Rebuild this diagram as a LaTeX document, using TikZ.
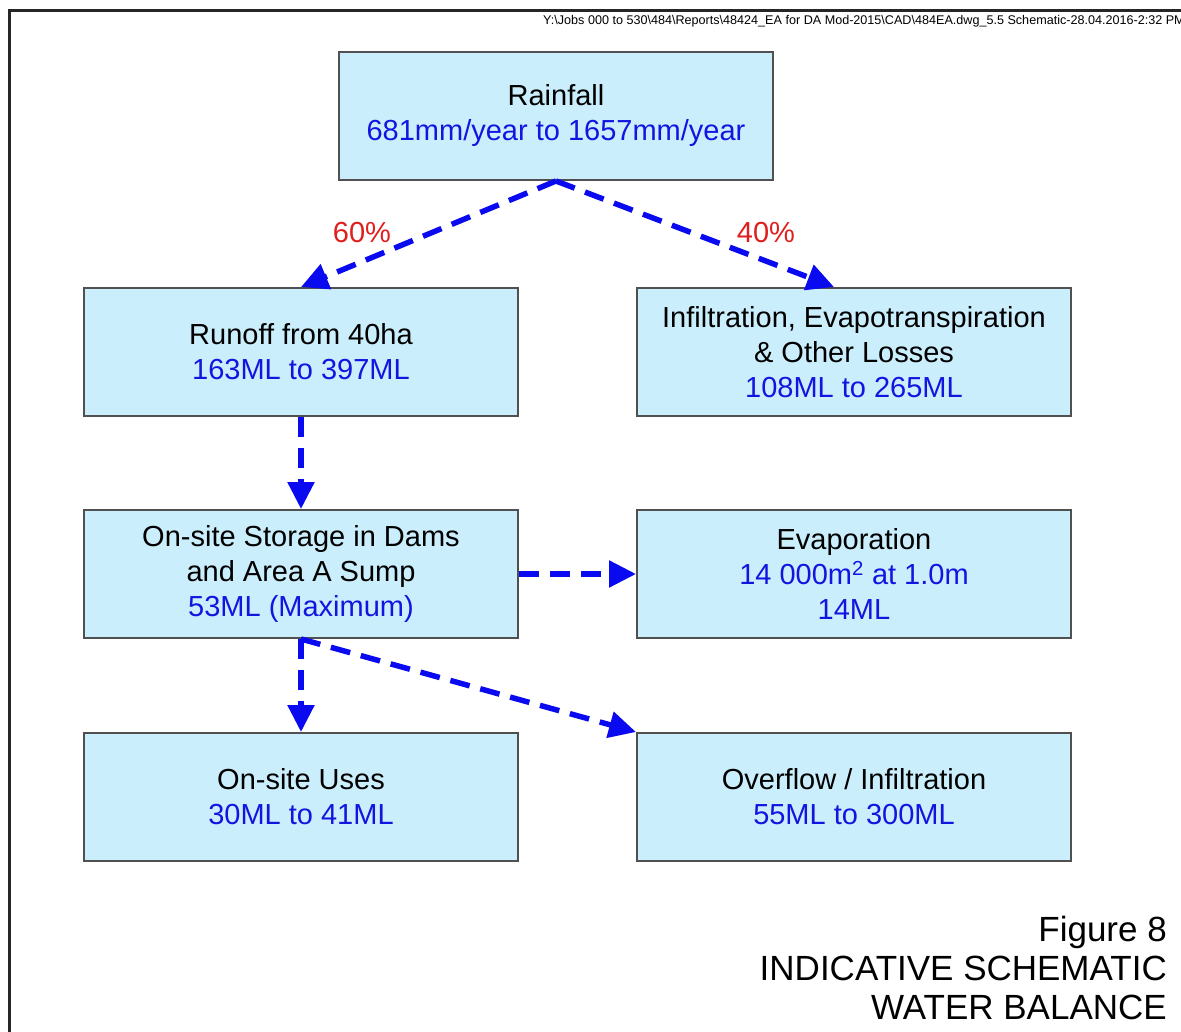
\documentclass[tikz,border=0pt]{standalone}
\usepackage{fontspec}
\setmainfont{Liberation Sans}
\usetikzlibrary{arrows.meta,calc}
\definecolor{boxfill}{RGB}{202,238,251}
\definecolor{boxline}{RGB}{80,80,80}
\definecolor{txtblue}{RGB}{20,20,225}
\definecolor{arrblue}{RGB}{10,10,240}
\definecolor{txtred}{RGB}{225,30,30}
\tikzset{
  flowbox/.style={draw=boxline, line width=2pt, fill=boxfill, minimum width=434pt,
    minimum height=128pt, inner sep=0pt, align=center, font=\fontsize{29}{35}\selectfont},
  flowarrow/.style={draw=arrblue, line width=5.5pt, dash pattern=on 20pt off 11pt,
    -{Triangle[length=27pt,width=26pt]}},
  pctlabel/.style={text=txtred, font=\fontsize{29}{35}\selectfont, inner sep=0pt},
}
\newcommand{\bl}[1]{\textcolor{txtblue}{#1}}
\begin{document}
\begin{tikzpicture}[x=1pt,y=-1pt]
\clip (0,0) rectangle (1181,1032);
\fill[white] (0,0) rectangle (1181,1032);
% frame
\draw[line width=3pt, black!85] (9,11) rectangle (1230,1080);
% header
\node[anchor=east, inner sep=0pt, font=\fontsize{12.6}{14}\selectfont] (hdr) at (1185,21)
  {Y:\textbackslash Jobs 000 to 530\textbackslash 484\textbackslash Reports\textbackslash 48424\_EA for DA Mod-2015\textbackslash CAD\textbackslash 484EA.dwg\_5.5 Schematic-28.04.2016-2:32 PM};
% boxes
\node[flowbox] (rain) at (556,116) {Rainfall\\ \bl{681mm/year to 1657mm/year}};
\node[flowbox] (run) at (301,352) {Runoff from 40ha\\ \bl{163ML to 397ML}};
\node[flowbox] (inf) at (854,352) {Infiltration, Evapotranspiration\\ \& Other Losses\\ \bl{108ML to 265ML}};
\node[flowbox] (sto) at (301,574) {On-site Storage in Dams\\ and Area A Sump\\ \bl{53ML (Maximum)}};
\node[flowbox] (eva) at (854,574) {Evaporation\\ \bl{14 000m\textsuperscript{2} at 1.0m}\\ \bl{14ML}};
\node[flowbox] (use) at (301,797) {On-site Uses\\ \bl{30ML to 41ML}};
\node[flowbox] (ovf) at (854,797) {Overflow / Infiltration\\ \bl{55ML to 300ML}};
% labels
\node[pctlabel] (p60) at (362,233) {60\%};
\node[pctlabel] (p40) at (766,233) {40\%};
% arrows
\draw[flowarrow] (rain.south) -- (run.north);
\draw[flowarrow] (rain.south) -- ($(inf.north)-(20,0)$);
\draw[flowarrow] (run.south) -- (sto.north);
\draw[flowarrow] (sto.east) -- (eva.west);
\draw[flowarrow] (sto.south) -- (use.north);
\draw[flowarrow] (sto.south) -- (ovf.north west);
% caption
\node[anchor=east, inner sep=0pt, align=right, font=\fontsize{35}{39}\selectfont] (cap) at (1167,968)
  {Figure 8\\ INDICATIVE SCHEMATIC\\ WATER BALANCE};
\end{tikzpicture}
\end{document}
